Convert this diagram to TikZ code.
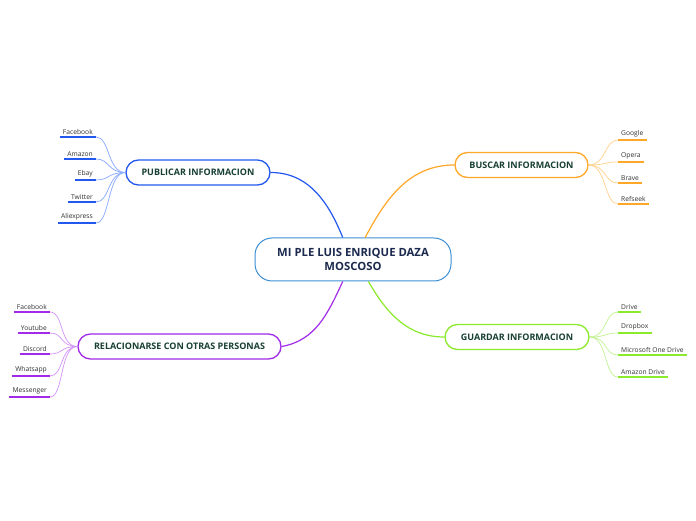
\documentclass[tikz,border=0pt]{standalone}
\usepackage{fontspec}
\setmainfont{Open Sans}
\definecolor{pubblue}{HTML}{2358F0}
\definecolor{publight}{HTML}{86A8FF}
\definecolor{busorange}{HTML}{FFA726}
\definecolor{buslight}{HTML}{FFD18A}
\definecolor{guagreen}{HTML}{8BEA2B}
\definecolor{gualight}{HTML}{C2F294}
\definecolor{relpurple}{HTML}{A12BE8}
\definecolor{rellight}{HTML}{D193F7}
\definecolor{midblue}{HTML}{3E8FD6}
\definecolor{branchtext}{HTML}{173F33}
\definecolor{midtext}{HTML}{1B2A4E}
\definecolor{leaftext}{HTML}{333333}
\tikzset{
  topic/.style={draw, fill=white, rounded corners=12.5pt, line width=1.3pt,
    minimum height=25pt, inner sep=2pt, text=branchtext, font=\fontsize{9}{10}\selectfont\bfseries},
  mainbox/.style={draw=midblue, fill=white, rounded corners=17pt, line width=1pt,
    minimum width=196pt, minimum height=43pt, align=center, text=midtext,
    font=\fontsize{11.3}{14}\selectfont\bfseries},
  leaf/.style={inner xsep=3pt, inner ysep=2.5pt, text=leaftext, font=\fontsize{6.7}{7}\selectfont},
  branch/.style={line width=1.2pt},
  twig/.style={line width=0.7pt},
  uline/.style={line width=1.5pt}
}
\begin{document}
\begin{tikzpicture}[x=1pt,y=1pt]
  \useasboundingbox[fill=white] (0,0) rectangle (696,520);

  % central topic
  \node[mainbox] (mid) at (353,260.5) {MI PLE LUIS ENRIQUE DAZA\\MOSCOSO};

  % main topics
  \node[topic, draw=pubblue, minimum width=144pt] (pub) at (198,347.5) {PUBLICAR INFORMACION};
  \node[topic, draw=busorange, minimum width=133pt] (bus) at (521.5,355) {BUSCAR INFORMACION};
  \node[topic, draw=guagreen, minimum width=144pt] (gua) at (517,183) {GUARDAR INFORMACION};
  \node[topic, draw=relpurple, minimum width=203pt] (rel) at (179.5,173.5) {RELACIONARSE CON OTRAS PERSONAS};

  % branches from the centre
  \draw[branch, pubblue] (mid.115) to[out=112,in=0] (pub.east);
  \draw[branch, busorange] (mid.61) to[out=62,in=180] (bus.west);
  \draw[branch, relpurple] (mid.245) to[out=245,in=10] (rel.east);
  \draw[branch, guagreen] (mid.305) to[out=300,in=180] (gua.west);

  % publicar
  \foreach \name/\txt/\yy in {pfb/Facebook/383, pam/Amazon/361, peb/Ebay/340, ptw/Twitter/318, pal/Aliexpress/297} {
    \node[leaf, anchor=south east] (\name) at (96,\yy) {\txt};
    \draw[twig, publight] (pub.west) .. controls +(-18,0) and +(14,0) .. (\name.south east);
    \draw[uline, pubblue] (\name.south west) -- (\name.south east);
  }

  % buscar
  \foreach \name/\txt/\yy in {bgo/Google/380, bop/Opera/358, bbr/Brave/337, bre/Refseek/316} {
    \node[leaf, anchor=south west] (\name) at (618,\yy) {\txt};
    \draw[twig, buslight] (bus.east) .. controls +(18,0) and +(-14,0) .. (\name.south west);
    \draw[uline, busorange] (\name.south west) -- (\name.south east);
  }

  % guardar
  \foreach \name/\txt/\yy in {gdr/Drive/208, gdb/Dropbox/187, gms/Microsoft One Drive/165, gaz/Amazon Drive/143} {
    \node[leaf, anchor=south west] (\name) at (618,\yy) {\txt};
    \draw[twig, gualight] (gua.east) .. controls +(18,0) and +(-14,0) .. (\name.south west);
    \draw[uline, guagreen] (\name.south west) -- (\name.south east);
  }

  % relacionarse
  \foreach \name/\txt/\yy in {rfb/Facebook/208, ryt/Youtube/187, rdi/Discord/166, rwa/Whatsapp/144, rme/Messenger/123} {
    \node[leaf, anchor=south east] (\name) at (50,\yy) {\txt};
    \draw[twig, rellight] (rel.west) .. controls +(-18,0) and +(14,0) .. (\name.south east);
    \draw[uline, relpurple] (\name.south west) -- (\name.south east);
  }
\end{tikzpicture}
\end{document}
